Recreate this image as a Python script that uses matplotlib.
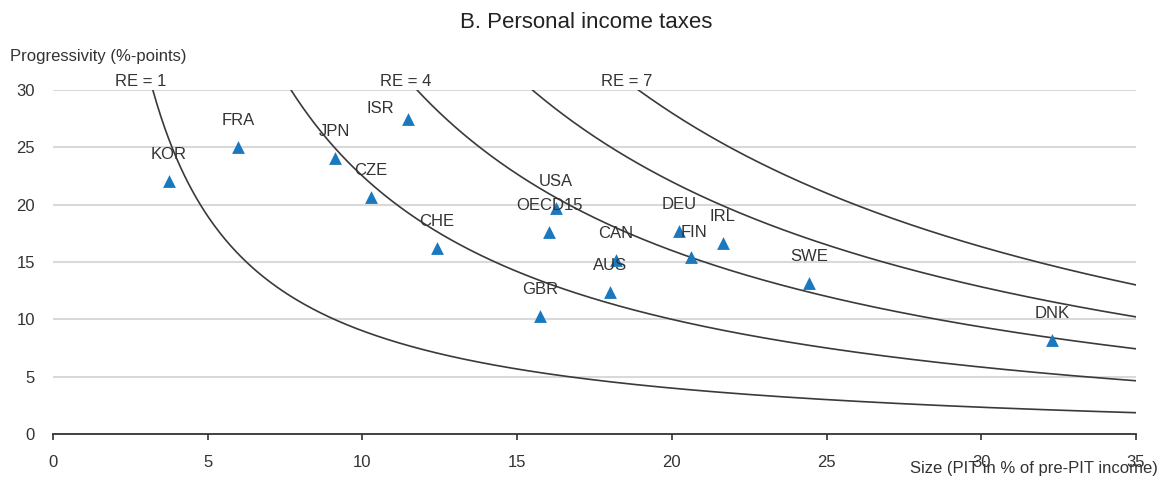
import numpy as np
import matplotlib
matplotlib.use("Agg")
import matplotlib.pyplot as plt

# Data
countries = ["KOR", "FRA", "JPN", "CZE", "ISR", "CHE", "USA", "OECD15", "GBR",
             "AUS", "CAN", "DEU", "FIN", "IRL", "SWE", "DNK"]
size = [3.75, 5.98, 9.11, 10.28, 11.47, 12.41, 16.26, 16.03, 15.74,
        18.0, 18.2, 20.23, 20.62, 21.65, 24.43, 32.29]
progressivity = [22.1, 25.0, 24.1, 20.7, 27.5, 16.2, 19.7, 17.6, 10.3,
                 12.4, 15.2, 17.7, 15.4, 16.7, 13.2, 8.2]
re_levels = [1, 2.5, 4, 5.5, 7]
re_labelled = [1, 4, 7]
x_ticks = [0, 5, 10, 15, 20, 25, 30, 35]
y_ticks = [0, 5, 10, 15, 20, 25, 30]

narrow = ["Liberation Sans Narrow", "Liberation Sans", "DejaVu Sans"]
regular = ["Liberation Sans", "DejaVu Sans"]
txt = "#333333"
blue = "#1a78be"
fs = 12

W, H = 1163, 482
fig = plt.figure(figsize=(W / 100, H / 100), dpi=100)
ax = fig.add_axes([53 / W, 1 - 434 / H, (1136 - 53) / W, (434 - 90) / H])

ax.set_xlim(0, 35)
ax.set_ylim(0, 30)

# grid
for yv in y_ticks[1:]:
    ax.axhline(yv, color="#d9d9d9", lw=1.5, zorder=0)

# RE curves
xs = np.linspace(0.5, 35, 800)
for re in re_levels:
    ys = re * (100 - xs) / xs
    ax.plot(xs, ys, color="#3a3a3a", lw=1.2, zorder=2)
    if re in re_labelled:
        x0 = 100 * re / (30 + re)
        ax.text(x0 - 0.38, 30.1, f"RE = {re}", ha="center", va="bottom",
                fontsize=fs, color=txt, family=narrow, clip_on=False)

# points
ax.scatter(size, progressivity, marker="^", s=85, color=blue, zorder=3,
           linewidths=0)

for c, xv, yv in zip(countries, size, progressivity):
    if c == "ISR":
        off = (-20, 7)
    elif c == "FIN":
        off = (2, 18)
    else:
        off = (0, 19)
    ax.annotate(c, (xv, yv), xytext=off, textcoords="offset points",
                ha="center", va="center", fontsize=fs, color=txt,
                family=narrow, zorder=4)

# axes styling
for s in ["top", "right", "left"]:
    ax.spines[s].set_visible(False)
ax.spines["bottom"].set_color("#333333")
ax.spines["bottom"].set_linewidth(1.3)
ax.set_xticks(x_ticks)
ax.set_yticks(y_ticks)
ax.set_xticklabels([str(v) for v in x_ticks], family=narrow, fontsize=fs,
                   color=txt)
ax.set_yticklabels([str(v) for v in y_ticks], family=narrow, fontsize=fs,
                   color=txt)
ax.tick_params(axis="x", direction="out", length=4, width=1.2,
               color="#333333", pad=11)
ax.tick_params(axis="y", length=0, pad=13)

fig.text(586 / W, 1 - 22 / H, "B. Personal income taxes", ha="center",
         va="center", fontsize=16, color="#222222", family=regular)
fig.text(10 / W, 1 - 57 / H, "Progressivity (%-points)", ha="left",
         va="center", fontsize=fs, color=txt, family=narrow)
fig.text(1158 / W, 1 - 469 / H, "Size (PIT in % of pre-PIT income)",
         ha="right", va="center", fontsize=fs, color=txt, family=narrow)

fig.savefig("out.png", dpi=100)
